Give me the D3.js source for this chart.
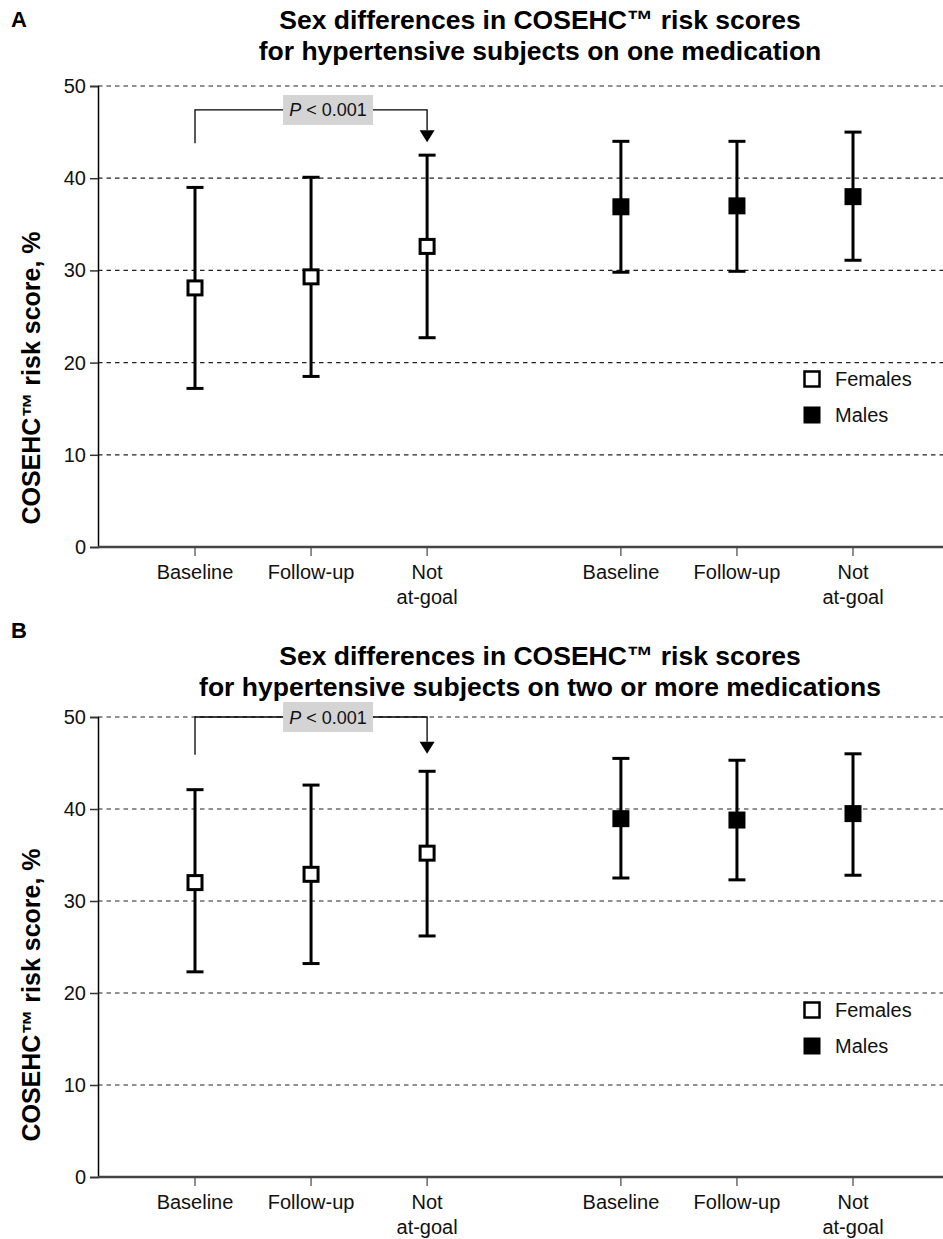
<!DOCTYPE html>
<html>
<head>
<meta charset="utf-8">
<script src="https://cdn.jsdelivr.net/npm/d3@7"></script>
<style>
  html, body { margin: 0; padding: 0; background: #fff; }
  svg { display: block; font-family: "Liberation Sans", Arial, sans-serif; }
</style>
</head>
<body>
<svg id="chart" width="943" height="1239"></svg>
<script>
// ---------- data ----------
const categories = ["Baseline", "Follow-up", "Not\nat-goal"];
const groups = ["Females", "Males"];
const yTicks = [0, 10, 20, 30, 40, 50];
const yLabel = "COSEHC\u2122 risk score, %";
const pLabel = "< 0.001";

const titleA = ["Sex differences in COSEHC\u2122 risk scores", "for hypertensive subjects on one medication"];
const titleB = ["Sex differences in COSEHC\u2122 risk scores", "for hypertensive subjects on two or more medications"];

// Panel A
const aFemaleMean = [28.1, 29.3, 32.6];
const aFemaleLow  = [17.2, 18.5, 22.7];
const aFemaleHigh = [39.0, 40.1, 42.5];
const aMaleMean   = [36.9, 37.0, 38.0];
const aMaleLow    = [29.8, 29.9, 31.1];
const aMaleHigh   = [44.0, 44.0, 45.0];
// Panel B
const bFemaleMean = [32.0, 32.9, 35.2];
const bFemaleLow  = [22.3, 23.2, 26.2];
const bFemaleHigh = [42.1, 42.6, 44.1];
const bMaleMean   = [38.95, 38.8, 39.5];
const bMaleLow    = [32.5, 32.3, 32.8];
const bMaleHigh   = [45.5, 45.3, 46.0];

// significance bracket (data units)
const aBracket = { level: 47.4, leftEnd: 43.8, arrowTip: 43.9 };
const bBracket = { level: 50.0, leftEnd: 45.9, arrowTip: 46.0 };

// ---------- drawing ----------
const svg = d3.select("#chart");
const groupGap = 3.67;

function panel(opts) {
  const g = svg.append("g");
  const left = 98, right = 943;
  const y = d3.scaleLinear().domain([0, 50]).range([opts.bottom, opts.top]);
  const x = d3.scaleLinear().domain([0, groupGap + 2]).range([195, 853]);
  const slot = (gi, ci) => gi * groupGap + ci;

  // letter
  g.append("text").attr("x", 11).attr("y", opts.letterY)
    .attr("font-size", 22).attr("font-weight", "bold").text(opts.letter);
  // title
  opts.title.forEach((t, i) => {
    g.append("text").attr("x", 540).attr("y", opts.titleY + i * 31)
      .attr("text-anchor", "middle").attr("font-size", 26.5).attr("font-weight", "bold").text(t);
  });

  // gridlines
  g.append("g").selectAll("line").data(yTicks.filter(d => d > 0)).join("line")
    .attr("x1", left).attr("x2", right)
    .attr("y1", d => y(d)).attr("y2", d => y(d))
    .attr("stroke", "#222").attr("stroke-width", 1.2).attr("stroke-dasharray", "4.5,4");

  // y axis
  const yAxis = d3.axisLeft(y).tickValues(yTicks).tickSize(8).tickPadding(4);
  const ya = g.append("g").attr("transform", `translate(${left},0)`).call(yAxis);
  ya.select(".domain").attr("stroke", "#000").attr("stroke-width", 1.5);
  ya.selectAll(".tick line").attr("stroke", "#333").attr("stroke-width", 1.5);
  ya.selectAll(".tick text").attr("font-size", 20).attr("fill", "#111")
    .attr("font-family", "Liberation Sans, Arial, sans-serif");

  // x axis
  const ticks = [];
  groups.forEach((gr, gi) => categories.forEach((c, ci) => ticks.push({ pos: slot(gi, ci), label: c })));
  g.append("line").attr("x1", left).attr("x2", right)
    .attr("y1", opts.bottom).attr("y2", opts.bottom)
    .attr("stroke", "#444").attr("stroke-width", 2.5);
  const xt = g.append("g").selectAll("g").data(ticks).join("g")
    .attr("transform", d => `translate(${x(d.pos)},${opts.bottom})`);
  xt.append("line").attr("y1", 1).attr("y2", 9).attr("stroke", "#444").attr("stroke-width", 1.2);
  xt.append("text").attr("text-anchor", "middle").attr("font-size", 20).attr("fill", "#111")
    .selectAll("tspan").data(d => d.label.split("\n")).join("tspan")
    .attr("x", 0).attr("y", (d, i) => 32 + i * 25).text(d => d);

  // y label
  g.append("text")
    .attr("transform", `translate(40,${opts.labelCenter}) rotate(-90)`)
    .attr("text-anchor", "middle").attr("font-size", 25).attr("font-weight", "bold").text(yLabel);

  // error bars + markers
  const series = [
    { gi: 0, mean: opts.fMean, low: opts.fLow, high: opts.fHigh, filled: false },
    { gi: 1, mean: opts.mMean, low: opts.mLow, high: opts.mHigh, filled: true }
  ];
  const cap = 8.5, sq = 17;
  series.forEach(s => {
    const pts = s.mean.map((m, ci) => ({ cx: x(slot(s.gi, ci)), m, lo: s.low[ci], hi: s.high[ci] }));
    const eb = g.append("g").selectAll("g").data(pts).join("g");
    eb.append("line").attr("x1", d => d.cx).attr("x2", d => d.cx)
      .attr("y1", d => y(d.lo)).attr("y2", d => y(d.hi)).attr("stroke", "#000").attr("stroke-width", 3);
    eb.append("line").attr("x1", d => d.cx - cap).attr("x2", d => d.cx + cap)
      .attr("y1", d => y(d.hi)).attr("y2", d => y(d.hi)).attr("stroke", "#000").attr("stroke-width", 3);
    eb.append("line").attr("x1", d => d.cx - cap).attr("x2", d => d.cx + cap)
      .attr("y1", d => y(d.lo)).attr("y2", d => y(d.lo)).attr("stroke", "#000").attr("stroke-width", 3);
    if (s.filled) {
      eb.append("rect").attr("x", d => d.cx - sq / 2).attr("y", d => y(d.m) - sq / 2)
        .attr("width", sq).attr("height", sq).attr("fill", "#000");
    } else {
      eb.append("rect").attr("x", d => d.cx - (sq - 3) / 2).attr("y", d => y(d.m) - (sq - 3) / 2)
        .attr("width", sq - 3).attr("height", sq - 3).attr("fill", "#fff").attr("stroke", "#000").attr("stroke-width", 3);
    }
  });

  // significance bracket
  const bx1 = x(slot(0, 0)), bx2 = x(slot(0, 2));
  const by = y(opts.bracket.level);
  const tipY = y(opts.bracket.arrowTip);
  g.append("path")
    .attr("d", `M${bx1},${y(opts.bracket.leftEnd)} V${by} H${bx2} V${tipY - 12}`)
    .attr("fill", "none").attr("stroke", "#000").attr("stroke-width", 1.3);
  g.append("path")
    .attr("d", `M${bx2 - 7.5},${tipY - 12} L${bx2 + 7.5},${tipY - 12} L${bx2},${tipY} Z`)
    .attr("fill", "#000");
  const boxW = 90, boxH = 30, boxCx = (bx1 + bx2) / 2 + 17;
  g.append("rect").attr("x", boxCx - boxW / 2).attr("y", by - boxH / 2)
    .attr("width", boxW).attr("height", boxH).attr("fill", "#d4d4d4");
  const pt = g.append("text").attr("x", boxCx).attr("y", by + 6.5)
    .attr("text-anchor", "middle").attr("font-size", 18).attr("fill", "#111");
  pt.append("tspan").attr("font-style", "italic").text("P");
  pt.append("tspan").text(" " + pLabel);

  // legend
  const lg = g.append("g").attr("transform", `translate(812,${opts.top + 293})`);
  groups.forEach((gr, i) => {
    const row = lg.append("g").attr("transform", `translate(0,${i * 36})`);
    if (i === 0) {
      row.append("rect").attr("x", -7.5).attr("y", -7.5).attr("width", 15).attr("height", 15)
        .attr("fill", "#fff").attr("stroke", "#000").attr("stroke-width", 2.5);
    } else {
      row.append("rect").attr("x", -8.5).attr("y", -8.5).attr("width", 17).attr("height", 17).attr("fill", "#000");
    }
    row.append("text").attr("x", 23).attr("y", 7).attr("font-size", 20).attr("fill", "#111").text(gr);
  });
}

panel({
  letter: "A", letterY: 27, title: titleA, titleY: 29,
  top: 86, bottom: 547, labelCenter: 378,
  fMean: aFemaleMean, fLow: aFemaleLow, fHigh: aFemaleHigh,
  mMean: aMaleMean, mLow: aMaleLow, mHigh: aMaleHigh,
  bracket: aBracket
});
panel({
  letter: "B", letterY: 638, title: titleB, titleY: 665,
  top: 717, bottom: 1177, labelCenter: 995,
  fMean: bFemaleMean, fLow: bFemaleLow, fHigh: bFemaleHigh,
  mMean: bMaleMean, mLow: bMaleLow, mHigh: bMaleHigh,
  bracket: bBracket
});
</script>
</body>
</html>
